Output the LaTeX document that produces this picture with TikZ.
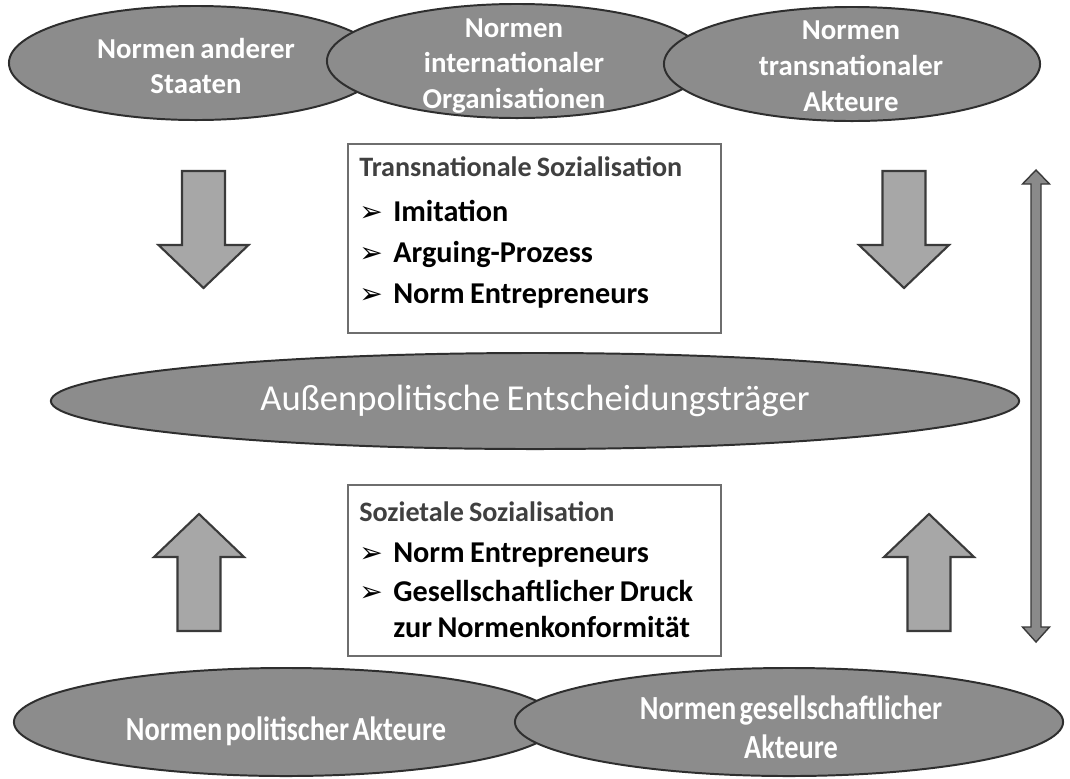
\documentclass[tikz,border=0pt]{standalone}
\usepackage{fontspec}
\setmainfont{Carlito}[WordSpace=0.8]
\newfontfamily\symfont{DejaVu Sans}
\newfontfamily\condfont{Carlito}[FakeStretch=0.84,WordSpace=0.5]
\usetikzlibrary{shapes.geometric}
\definecolor{ellf}{HTML}{8C8C8C}
\definecolor{elld}{HTML}{2E2E2E}
\definecolor{arrf}{HTML}{A7A7A7}
\definecolor{arrd}{HTML}{3A3A3A}
\definecolor{boxd}{HTML}{6E6E6E}
\definecolor{headc}{HTML}{404040}
\definecolor{dblf}{HTML}{8A8A8A}
\tikzset{
  ell/.style={ellipse,draw=elld,fill=ellf,line width=1.4pt,inner sep=0pt},
  etxt/.style={align=center,text=white,inner sep=0pt,font=\fontsize{20.5}{25.5}\selectfont\bfseries},
  mtxt/.style={align=center,text=white,inner sep=0pt,font=\fontsize{26}{30}\selectfont},
  btxt/.style={align=center,text=white,inner sep=0pt,font=\condfont\fontsize{24}{27.5}\selectfont\bfseries},
  frame/.style={draw=boxd,fill=white,line width=1.4pt,minimum width=9.325cm,inner sep=0pt,anchor=north west},
  stxt/.style={text width=8.9cm,align=flush left,inner sep=0pt,anchor=north west},
  blk/.style={draw=arrd,fill=arrf,line width=1.5pt,line join=miter},
  dblarr/.style={draw=arrd,fill=dblf,line width=1pt,line join=miter},
  barrow/.pic={\draw[blk] (-21.5,0) -- (21.5,0) -- (21.5,74) -- (45,74) -- (0,117) -- (-45,74) -- (-21.5,74) -- cycle;}
}
\newcommand{\hd}[1]{{\color{headc}\fontsize{20}{25}\selectfont #1}}
\newcommand{\itm}[1]{\makebox[0.85cm][l]{\symfont\fontsize{20}{20}\selectfont ➢}#1}

\begin{document}
\begin{tikzpicture}[x=0.025cm,y=-0.025cm]
\fill[white] (0,0) rectangle (1070,778);
\useasboundingbox (0,0) rectangle (1070,778);
% ================= top row: norm sources =================
\node[ell,minimum width=9.35cm,minimum height=2.85cm] (staaten) at (196,63) {};
\node[ell,minimum width=9.5cm,minimum height=2.85cm] (ios) at (517,61) {};
\node[ell,minimum width=9.4cm,minimum height=2.85cm] (tna) at (852,64) {};
\node[etxt] (tstaaten) at (196,66) {Normen anderer\\Staaten};
\node[etxt] (tios) at (514,66) {Normen\\internationaler\\Organisationen};
\node[etxt] (ttna) at (851,66) {Normen\\transnationaler\\Akteure};
% ================= centre =================
\node[ell,minimum width=24.2cm,minimum height=2.4cm] (efp) at (535,401) {};
\node[mtxt] (tefp) at (535,401) {Außenpolitische Entscheidungsträger};
% ================= bottom row =================
\node[ell,minimum width=13.6cm,minimum height=2.7cm] (pol) at (286,722) {};
\node[ell,minimum width=13.7cm,minimum height=2.7cm] (ges) at (789,722) {};
\node[btxt] (tpol) at (286,731) {Normen politischer Akteure};
\node[btxt] (tges) at (791,727) {Normen gesellschaftlicher\\Akteure};
% ================= mechanisms =================
\node[frame,minimum height=4.725cm] (trans) at (347,143) {};
\node[stxt,font=\fontsize{21.5}{29}\selectfont\bfseries] (ttrans) at (359,156)
  {\hd{Transnationale Sozialisation}\\[3.5pt]\itm{Imitation}\\\itm{Arguing-Prozess}\\\itm{Norm Entrepreneurs}};
\node[frame,minimum height=4.275cm] (soz) at (347,484) {};
\node[stxt,font=\fontsize{21.5}{25.5}\selectfont\bfseries] (tsoz) at (359,501)
  {\hd{Sozietale Sozialisation}\\[4.3pt]\itm{Norm Entrepreneurs}\\[2.1pt]\itm{Gesellschaftlicher Druck}\\\hspace*{0.85cm}zur Normenkonformität};
% block arrows
\pic at (203.5,171) {barrow};
\pic at (904,171) {barrow};
\pic[rotate=180] at (199,631) {barrow};
\pic[rotate=180] at (929,631) {barrow};
% two-way arrow on the right
\draw[dblarr] (1031,184) -- (1022.5,184) -- (1036,170) -- (1049.5,184) -- (1041,184) -- (1041,627) -- (1049.5,627) -- (1036,642) -- (1022.5,627) -- (1031,627) -- cycle;
\end{tikzpicture}
\end{document}
